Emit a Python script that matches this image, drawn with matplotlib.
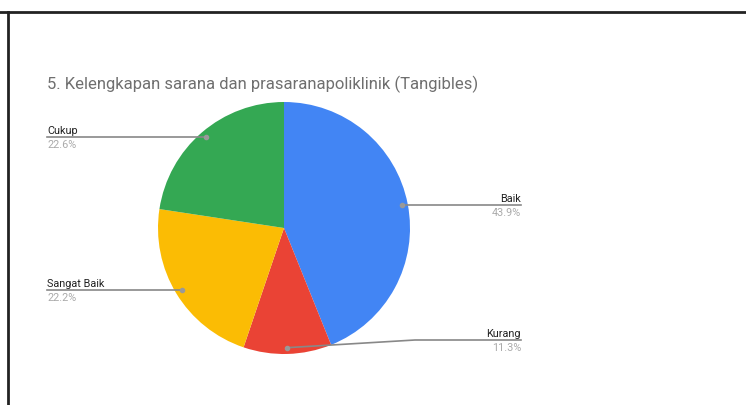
import numpy as np
import matplotlib.pyplot as plt
from matplotlib.lines import Line2D

# Data
categories = ["Baik", "Kurang", "Sangat Baik", "Cukup"]
values = [43.9, 11.3, 22.2, 22.6]
colors = ["#4285F4", "#EA4335", "#FBBC04", "#34A853"]
title = "5. Kelengkapan sarana dan prasaranapoliklinik (Tangibles)"

W, H = 746, 406
plt.rcParams['font.family'] = ['Roboto', 'DejaVu Sans']

fig = plt.figure(figsize=(W / 100, H / 100), dpi=100)
ax = fig.add_axes([0, 0, 1, 1])

# pie in pixel coordinates (y measured from bottom)
cx, cy, r = 284, H - 229, 126
wedges, _ = ax.pie(values, colors=colors, startangle=90, counterclock=False,
                   center=(cx, cy), radius=r, frame=True,
                   wedgeprops=dict(linewidth=0))
ax.set_xlim(0, W)
ax.set_ylim(0, H)
ax.set_aspect('equal')
ax.axis('off')

# leader lines and labels
left_x, right_x = 47, 521
min_y = H - 341
for w, name, v in zip(wedges, categories, values):
    mid = np.deg2rad((w.theta1 + w.theta2) / 2)
    dx = cx + 0.95 * r * np.cos(mid)
    dy = cy + 0.95 * r * np.sin(mid)
    ly = max(dy, min_y)
    if np.cos(mid) >= 0:
        tx, ha = right_x, 'right'
        elbow = right_x - 106
    else:
        tx, ha = left_x, 'left'
        elbow = left_x
    if ly != dy:
        ax.plot([dx, elbow, tx], [dy, ly, ly], color='#888888', lw=1.2)
    else:
        ax.plot([dx, tx], [dy, ly], color='#888888', lw=1.2)
    ax.plot(dx, dy, 'o', color='#999999', ms=3)
    ax.text(tx, ly + 2, name, ha=ha, va='bottom', fontsize=7.8, color='#222222')
    ax.text(tx, ly - 2, f"{v}%", ha=ha, va='top', fontsize=7.8, color='#aaaaaa')

ax.text(47, H - 84, title, ha='left', va='center', fontsize=12, color='#6f6f6f')

# frame lines (top and left)
fig.add_artist(Line2D([0, 1], [1 - 13 / H, 1 - 13 / H], color='#222222', lw=2))
fig.add_artist(Line2D([8 / W, 8 / W], [0, 1 - 13 / H], color='#222222', lw=2))

fig.savefig("out.png", dpi=100)
